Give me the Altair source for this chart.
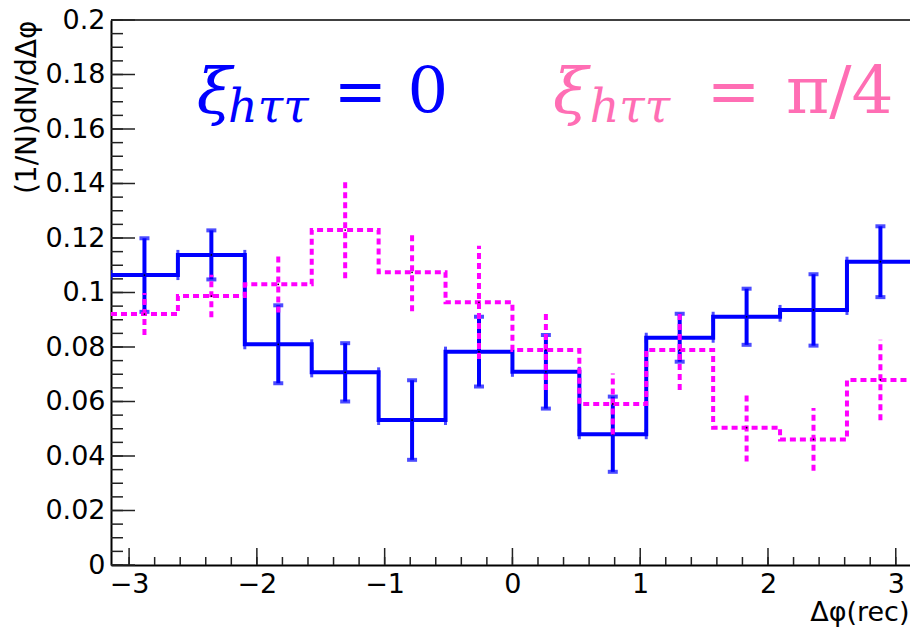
import math
import numpy as np
import pandas as pd
import altair as alt

PI = math.pi

# ---- data ----
blue_vals = [0.1064, 0.1138, 0.0810, 0.0707, 0.0532, 0.0783, 0.0709, 0.0480, 0.0834, 0.0911, 0.0936, 0.1113]
blue_errs = [0.0135, 0.0090, 0.0143, 0.0107, 0.0146, 0.0128, 0.0135, 0.0138, 0.0088, 0.0103, 0.0131, 0.0130]
mag_vals = [0.0921, 0.0987, 0.1030, 0.1229, 0.1074, 0.0964, 0.0789, 0.0591, 0.0789, 0.0504, 0.0461, 0.0679]
mag_errs = [0.0077, 0.0078, 0.0103, 0.0177, 0.0143, 0.0208, 0.0147, 0.0112, 0.0147, 0.0124, 0.0115, 0.0148]

x_tick_labels = [-3, -2, -1, 0, 1, 2, 3]
y_tick_labels = [0, 0.02, 0.04, 0.06, 0.08, 0.1, 0.12, 0.14, 0.16, 0.18, 0.2]

x_title = "Δφ(rec)"
y_title = "(1/N)dN/dΔφ"

# annotation pieces: (x, y, text, style)
blue_label = [(-2.47, 0.1659, "ξ", "sym"), (-2.225, 0.1626, "hττ", "sub"),
              (-1.40, 0.1659, "= 0", "rel")]
pink_label = [(0.318, 0.1659, "ξ", "sym"), (0.605, 0.1626, "hττ", "sub"),
              (1.52, 0.1659, "=", "rel"), (2.14, 0.1659, "π/4", "rel2")]

NB = 12
edges = [-PI + k * PI / 6 for k in range(NB + 1)]
centers = [(edges[k] + edges[k + 1]) / 2 for k in range(NB)]

W, H = 799, 545
X_MAX = -PI + W / 127.78

BLUE = "#0000ff"
MAG = "#ff00ff"
PINK = "#ff6eb4"
FONT = "DejaVu Sans"

XS = alt.Scale(domain=[-PI, X_MAX], nice=False, zero=False)
YS = alt.Scale(domain=[0, 0.2], nice=False, zero=False)

X_AX = alt.Axis(
    values=x_tick_labels, format="d", ticks=False, tickSize=0, grid=False,
    domainColor="black", domainWidth=2, labelFont=FONT, labelFontSize=27,
    labelColor="black", labelPadding=6, title=x_title, titleFont=FONT,
    titleFontSize=27, titleFontWeight="normal", titleColor="black",
    titleX=W - 1, titleY=55, titleAlign="right", titleBaseline="alphabetic",
    titleAnchor="end")
Y_AX = alt.Axis(
    values=y_tick_labels, format="~g", ticks=False, tickSize=0, grid=False,
    domainColor="black", domainWidth=2, labelFont=FONT, labelFontSize=27,
    labelColor="black", labelPadding=6, title=y_title, titleFont=FONT,
    titleFontSize=28, titleFontWeight="normal", titleColor="black",
    titleAngle=-90, titleX=-84, titleY=0, titleAlign="right",
    titleBaseline="middle", titleAnchor="end")


def X(field):
    return alt.X(field, scale=XS, axis=X_AX)


def Y(field):
    return alt.Y(field, scale=YS, axis=Y_AX)


def step_df(vals):
    return pd.DataFrame({"x": edges, "y": list(vals) + [vals[-1]]})


def bin_df(vals, errs):
    return pd.DataFrame({
        "x": centers,
        "lo_x": edges[:-1],
        "hi_x": edges[1:],
        "y": vals,
        "lo": [v - e for v, e in zip(vals, errs)],
        "hi": [v + e for v, e in zip(vals, errs)],
    })


layers = []

axis_df = pd.DataFrame({"x": [-PI], "y": [0.0]})
layers.append(alt.Chart(axis_df).mark_point(opacity=0).encode(x=X("x:Q"), y=Y("y:Q")))

# frame top line
layers.append(alt.Chart(axis_df).mark_rule(color="black", strokeWidth=1.5).encode(
    x=alt.value(0), x2=alt.value(W), y=alt.value(0)))

# inner tick marks
ymaj = pd.DataFrame({"y": np.round(np.arange(0, 0.2001, 0.02), 4)})
ymin = pd.DataFrame({"y": np.round(np.arange(0, 0.2001, 0.005), 4)})
xmaj = pd.DataFrame({"x": [float(v) for v in x_tick_labels]})
xmin = pd.DataFrame({"x": np.round(np.arange(-3.0, 3.0001, 0.2), 4)})
TC = "#222222"
layers.append(alt.Chart(ymaj).mark_rule(color=TC, strokeWidth=1.5).encode(
    y=Y("y:Q"), x=alt.value(0), x2=alt.value(24)))
layers.append(alt.Chart(ymin).mark_rule(color=TC, strokeWidth=1.5).encode(
    y=Y("y:Q"), x=alt.value(0), x2=alt.value(12)))
layers.append(alt.Chart(xmaj).mark_rule(color=TC, strokeWidth=1.5).encode(
    x=X("x:Q"), y=alt.value(H), y2=alt.value(H - 17)))
layers.append(alt.Chart(xmin).mark_rule(color=TC, strokeWidth=1.5).encode(
    x=X("x:Q"), y=alt.value(H), y2=alt.value(H - 8)))


def hist_layers(vals, errs, color, dash=None, caps=True):
    out = []
    kw = {} if dash is None else {"strokeDash": dash}
    out.append(alt.Chart(step_df(vals)).mark_line(
        interpolate="step-after", color=color, strokeWidth=4, clip=True, **kw).encode(
        x=X("x:Q"), y=Y("y:Q")))
    bd = bin_df(vals, errs)
    out.append(alt.Chart(bd).mark_rule(color=color, strokeWidth=4, clip=True, **kw).encode(
        x=X("x:Q"), y=Y("lo:Q"), y2="hi:Q"))
    if caps:
        out.append(alt.Chart(bd).transform_fold(["lo", "hi"], as_=["k", "yy"]).mark_tick(
            orient="horizontal", color=color, size=10, thickness=4, clip=True).encode(
            x=X("x:Q"), y=Y("yy:Q")))
        out.append(alt.Chart(bd).transform_fold(["lo_x", "hi_x"], as_=["k", "xx"]).mark_tick(
            orient="vertical", color=color, size=10, thickness=3, clip=True).encode(
            x=X("xx:Q"), y=Y("y:Q")))
    out.append(alt.Chart(bd).mark_circle(color="black", size=3, opacity=1, clip=True).encode(
        x=X("x:Q"), y=Y("y:Q")))
    return out


layers += hist_layers(blue_vals, blue_errs, BLUE)
layers += hist_layers(mag_vals, mag_errs, MAG, dash=[6, 4], caps=False)

STYLES = {
    "sym": dict(fontSize=64, fontStyle="italic"),
    "sub": dict(fontSize=46, fontStyle="italic"),
    "rel": dict(fontSize=64, fontStyle="normal"),
    "rel2": dict(fontSize=66, fontStyle="normal"),
}


def label_layers(pieces, color):
    out = []
    for x, y, t, s in pieces:
        df = pd.DataFrame({"x": [x], "y": [y], "t": [t]})
        out.append(alt.Chart(df).mark_text(
            align="left", baseline="alphabetic", color=color, font="DejaVu Serif",
            **STYLES[s]).encode(x=X("x:Q"), y=Y("y:Q"), text="t:N"))
    return out


layers += label_layers(blue_label, BLUE)
layers += label_layers(pink_label, PINK)

chart = alt.layer(*layers).properties(
    width=W, height=H,
    autosize=alt.AutoSizeParams(type="none"),
    padding={"left": 111, "top": 20, "right": 0, "bottom": 66},
    background="white",
).configure_view(stroke=None)

chart.save("out.html", embed_options={"renderer": "svg", "actions": False})
